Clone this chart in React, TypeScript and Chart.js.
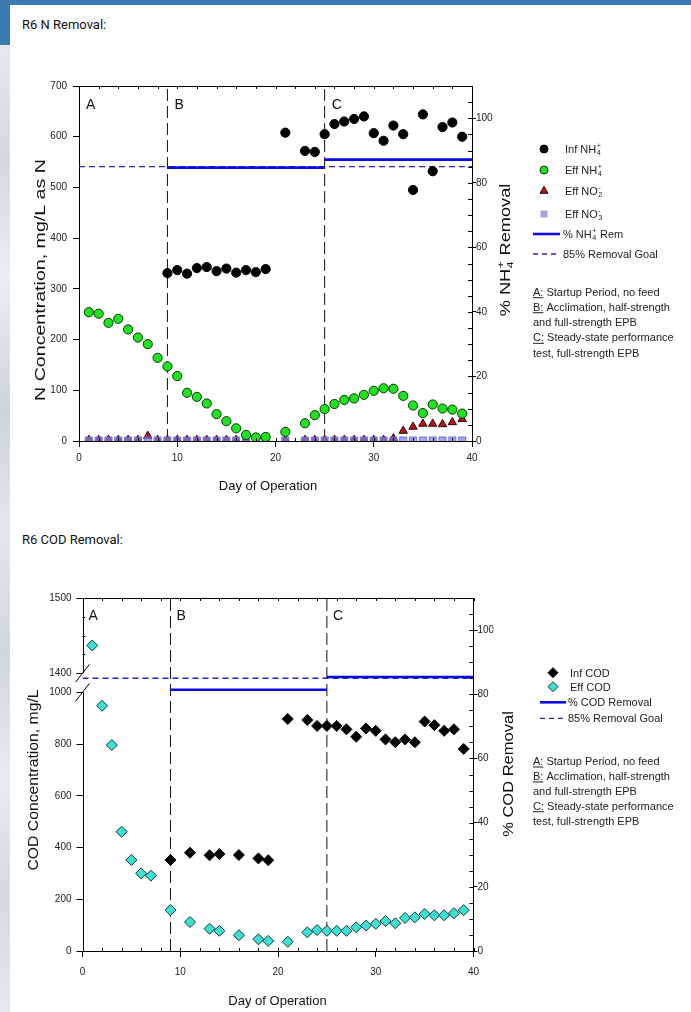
import React, { useEffect, useRef } from 'react';
import { Chart, registerables } from 'chart.js';

Chart.register(...registerables);

const F = '"Liberation Sans", Arial, Helvetica, sans-serif';
Chart.defaults.font.family = F;

// ---------------- R6 N removal ----------------
const dayTicks = [0, 10, 20, 30, 40];
const nConcTicks = [0, 100, 200, 300, 400, 500, 600, 700];
const pctTicks = [0, 20, 40, 60, 80, 100];

const infNH4Days = [9, 10, 11, 12, 13, 14, 15, 16, 17, 18, 19, 21, 23, 24, 25, 26, 27, 28, 29, 30, 31, 32, 33, 34, 35, 36, 37, 38, 39];
const infNH4 = [331, 337, 330, 341, 343, 335, 340, 332, 337, 333, 339, 608, 572, 570, 605, 625, 630, 635, 640, 607, 592, 622, 605, 495, 644, 532, 619, 628, 600];

const effNDays = [1, 2, 3, 4, 5, 6, 7, 8, 9, 10, 11, 12, 13, 14, 15, 16, 17, 18, 19, 21, 23, 24, 25, 26, 27, 28, 29, 30, 31, 32, 33, 34, 35, 36, 37, 38, 39];
const effNH4 = [254, 251, 233, 241, 220, 204, 191, 164, 147, 128, 95, 87, 74, 53, 39, 25, 12, 7, 8, 18, 35, 51, 63, 73, 81, 84, 91, 99, 104, 103, 89, 70, 55, 72, 64, 62, 54];
const effNO2 = [2, 2, 2, 2, 2, 2, 10, 2, 2, 2, 2, 2, 2, 2, 2, 2, 2, 2, 2, 2, 2, 2, 2, 2, 2, 2, 2, 2, 2, 5, 20, 28, 34, 34, 33, 37, 43];
const effNO3 = [1, 1, 1, 1, 1, 1, 1, 1, 1, 1, 1, 1, 1, 1, 1, 1, 1, 1, 1, 1, 1, 1, 1, 1, 1, 1, 1, 1, 1, 1, 1, 1, 1, 1, 1, 1, 1];

const nhRemStart = [9, 25];
const nhRemEnd = [25, 40];
const nhRemPct = [84.7, 87.2];

// ---------------- R6 COD removal ----------------
const codLowTicks = [0, 200, 400, 600, 800, 1000];
const codHighTicks = [1400, 1500];
const codBreakLow = 1000;
const codBreakHigh = 1400;

const infCODDays = [9, 11, 13, 14, 16, 18, 19, 21, 23, 24, 25, 26, 27, 28, 29, 30, 31, 32, 33, 34, 35, 36, 37, 38, 39];
const infCOD = [352, 380, 370, 375, 371, 358, 351, 897, 893, 870, 870, 870, 857, 828, 860, 851, 818, 807, 818, 807, 887, 873, 851, 857, 781];

const effCODDays = [1, 2, 3, 4, 5, 6, 7, 9, 11, 13, 14, 16, 18, 19, 21, 23, 24, 25, 26, 27, 28, 29, 30, 31, 32, 33, 34, 35, 36, 37, 38, 39];
const effCOD = [1437, 948, 796, 461, 352, 300, 291, 158, 112, 86, 78, 61, 45, 39, 36, 72, 81, 78, 78, 78, 92, 98, 105, 116, 107, 128, 130, 143, 138, 138, 146, 158];

const codRemStart = [9, 25];
const codRemEnd = [25, 40];
const codRemPct = [81.4, 85.4];

// ---------------- shared ----------------
const goalPct = 85;
const goalStart = 0;
const goalEnd = 40;
const phaseDays = [9, 25];
const phaseLabelDays = [0, 9, 25];
const phaseLabels = ['A', 'B', 'C'];
const pctMax = 110;

type Seg = { t: string; sub?: string; sup?: string; u?: boolean };

function pts(days: number[], vals: number[]) {
  return days.map((d, i) => ({ x: d, y: vals[i] }));
}

function richWidth(ctx: CanvasRenderingContext2D, segs: Seg[], size: number) {
  let w = 0;
  for (const s of segs) {
    ctx.font = `${size}px ${F}`;
    w += ctx.measureText(s.t).width;
    if (s.sub || s.sup) {
      ctx.font = `${size * 0.66}px ${F}`;
      w += Math.max(s.sub ? ctx.measureText(s.sub).width : 0, s.sup ? ctx.measureText(s.sup).width : 0) + 1;
    }
  }
  return w;
}

function drawRich(ctx: CanvasRenderingContext2D, segs: Seg[], x: number, y: number, size: number) {
  let cx = x;
  ctx.textAlign = 'left';
  ctx.textBaseline = 'alphabetic';
  for (const s of segs) {
    ctx.font = `${size}px ${F}`;
    ctx.fillText(s.t, cx, y);
    const w = ctx.measureText(s.t).width;
    if (s.u) ctx.fillRect(cx, y + 1.5, w, 1);
    cx += w;
    if (s.sub || s.sup) {
      ctx.font = `${size * 0.66}px ${F}`;
      let sw = 0;
      if (s.sub) {
        ctx.fillText(s.sub, cx + 0.5, y + size * 0.22);
        sw = Math.max(sw, ctx.measureText(s.sub).width);
      }
      if (s.sup) {
        ctx.fillText(s.sup, cx + 0.5, y - size * 0.45);
        sw = Math.max(sw, ctx.measureText(s.sup).width);
      }
      cx += sw + 1;
    }
  }
}

function drawVTitle(ctx: CanvasRenderingContext2D, segs: Seg[], cx: number, cy: number, size: number, stretch: number) {
  ctx.save();
  ctx.translate(cx, cy);
  ctx.rotate(-Math.PI / 2);
  ctx.scale(stretch, 1);
  const w = richWidth(ctx, segs, size);
  drawRich(ctx, segs, -w / 2, size * 0.36, size);
  ctx.restore();
}

function drawMarker(ctx: CanvasRenderingContext2D, style: string, x: number, y: number, r: number, fill: string, stroke?: string) {
  ctx.save();
  ctx.fillStyle = fill;
  ctx.beginPath();
  if (style === 'circle') ctx.arc(x, y, r, 0, Math.PI * 2);
  else if (style === 'triangle') {
    ctx.moveTo(x, y - r);
    ctx.lineTo(x + r * 0.866, y + r / 2);
    ctx.lineTo(x - r * 0.866, y + r / 2);
    ctx.closePath();
  } else if (style === 'rect') {
    const s = r * Math.SQRT1_2;
    ctx.rect(x - s, y - s, 2 * s, 2 * s);
  } else if (style === 'rectRot') {
    ctx.moveTo(x - r, y);
    ctx.lineTo(x, y - r);
    ctx.lineTo(x + r, y);
    ctx.lineTo(x, y + r);
    ctx.closePath();
  }
  ctx.fill();
  if (stroke) {
    ctx.strokeStyle = stroke;
    ctx.lineWidth = 1;
    ctx.stroke();
  }
  ctx.restore();
}

type LegendItem = {
  kind: 'marker' | 'line';
  style?: string;
  fill?: string;
  stroke?: string;
  r?: number;
  color?: string;
  width?: number;
  dash?: number[];
  segs: Seg[];
  y: number;
};

type DecorCfg = {
  letterDx: number;
  letterY: number;
  leftTitle: Seg[];
  leftX: number;
  leftY: number;
  leftSize: number;
  leftStretch: number;
  rightTitle: Seg[];
  rightX: number;
  rightY: number;
  rightSize: number;
  rightStretch: number;
  xTitleX: number;
  xTitleY: number;
  legend: LegendItem[];
  markerX: number;
  textX: number;
  lineX1: number;
  lineX2: number;
  lineTextX: number;
  notes: Seg[][];
  notesX: number;
  notesY: number[];
  broken?: boolean;
};

const notesSegs: Seg[][] = [
  [{ t: 'A:', u: true }, { t: ' Startup Period, no feed' }],
  [{ t: 'B:', u: true }, { t: ' Acclimation, half-strength' }],
  [{ t: 'and full-strength EPB' }],
  [{ t: 'C:', u: true }, { t: ' Steady-state performance' }],
  [{ t: 'test, full-strength EPB' }],
];

function makeDecor(cfg: DecorCfg) {
  return {
    id: 'decor',
    afterDraw(chart: any) {
      const ctx: CanvasRenderingContext2D = chart.ctx;
      const { left, right, top, bottom } = chart.chartArea;
      const xs = chart.scales.x;
      const y2 = chart.scales.y2;
      ctx.save();
      ctx.strokeStyle = '#000';
      ctx.lineWidth = 1;
      ctx.beginPath();
      ctx.moveTo(left, Math.round(top) + 0.5);
      ctx.lineTo(right, Math.round(top) + 0.5);
      for (let d = 0; d <= 40; d += 2) {
        const px = Math.round(xs.getPixelForValue(d)) + 0.5;
        ctx.moveTo(px, bottom);
        ctx.lineTo(px, bottom - 3);
        ctx.moveTo(px, top);
        ctx.lineTo(px, top + 3);
      }
      for (let p = 0; p <= pctMax; p += 5) {
        const py = Math.round(y2.getPixelForValue(p)) + 0.5;
        ctx.moveTo(right, py);
        ctx.lineTo(right - 4, py);
      }
      if (cfg.broken) {
        const yTop = chart.scales.yTop;
        const yLow = chart.scales.y;
        const b1 = yTop.getPixelForValue(codBreakHigh);
        const b2 = yLow.getPixelForValue(codBreakLow);
        const lx = Math.round(left) + 0.5;
        ctx.moveTo(lx, top);
        ctx.lineTo(lx, b1);
        ctx.moveTo(lx, b2);
        ctx.lineTo(lx, bottom);
        for (const b of [b1, b2]) {
          ctx.moveTo(left - 7, b + 9);
          ctx.lineTo(left + 7, b - 9);
        }
        for (const v of codHighTicks) {
          const py = Math.round(yTop.getPixelForValue(v)) + 0.5;
          ctx.moveTo(left - 6, py);
          ctx.lineTo(left, py);
        }
        for (let v = codBreakHigh + 25; v < 1500; v += 25) {
          const py = Math.round(yTop.getPixelForValue(v)) + 0.5;
          ctx.moveTo(left, py);
          ctx.lineTo(left + 3, py);
        }
      }
      ctx.stroke();

      ctx.fillStyle = '#222';
      if (cfg.broken) {
        const yTop = chart.scales.yTop;
        ctx.font = `10px ${F}`;
        ctx.textAlign = 'right';
        ctx.textBaseline = 'middle';
        for (const v of codHighTicks) {
          ctx.fillText(String(v), left - 11, yTop.getPixelForValue(v));
        }
      }

      ctx.fillStyle = '#111';
      ctx.font = `14px ${F}`;
      ctx.textAlign = 'left';
      ctx.textBaseline = 'alphabetic';
      phaseLabelDays.forEach((d, i) => {
        ctx.fillText(phaseLabels[i], xs.getPixelForValue(d) + cfg.letterDx, cfg.letterY);
      });

      ctx.fillStyle = '#111';
      drawVTitle(ctx, cfg.leftTitle, cfg.leftX, cfg.leftY, cfg.leftSize, cfg.leftStretch);
      drawVTitle(ctx, cfg.rightTitle, cfg.rightX, cfg.rightY, cfg.rightSize, cfg.rightStretch);
      ctx.font = `13px ${F}`;
      ctx.textAlign = 'center';
      ctx.textBaseline = 'middle';
      ctx.fillText('Day of Operation', cfg.xTitleX, cfg.xTitleY);

      for (const it of cfg.legend) {
        if (it.kind === 'marker') {
          drawMarker(ctx, it.style!, cfg.markerX, it.y, it.r!, it.fill!, it.stroke);
          ctx.fillStyle = '#222';
          drawRich(ctx, it.segs, cfg.textX, it.y + 4, 11);
        } else {
          ctx.save();
          ctx.strokeStyle = it.color!;
          ctx.lineWidth = it.width!;
          ctx.setLineDash(it.dash || []);
          ctx.beginPath();
          ctx.moveTo(cfg.lineX1, it.y);
          ctx.lineTo(cfg.lineX2, it.y);
          ctx.stroke();
          ctx.restore();
          ctx.fillStyle = '#222';
          drawRich(ctx, it.segs, cfg.lineTextX, it.y + 4, 11);
        }
      }
      ctx.fillStyle = '#222';
      cfg.notes.forEach((segs, i) => drawRich(ctx, segs, cfg.notesX, cfg.notesY[i] + 4, 11));
      ctx.restore();
    },
  };
}

const tickFont = { family: F, size: 10 };
const SOLID = '#0b0bea';
const DASHC = '#2727b5';
const plainLabel = (v: any) => String(v);

function lineSets(starts: number[], ends: number[], vals: number[]) {
  return starts.map((s, i) => ({
    data: [{ x: s, y: vals[i] }, { x: ends[i], y: vals[i] }],
    showLine: true,
    pointRadius: 0,
    borderColor: SOLID,
    borderWidth: 2.6,
    yAxisID: 'y2',
    order: 5,
  }));
}

function commonSets() {
  return [
    {
      data: [{ x: goalStart, y: goalPct }, { x: goalEnd, y: goalPct }],
      showLine: true,
      pointRadius: 0,
      borderColor: DASHC,
      borderWidth: 1.3,
      borderDash: [6, 4],
      yAxisID: 'y2',
      order: 6,
    },
    ...phaseDays.map((d) => ({
      data: [{ x: d, y: 0 }, { x: d, y: pctMax }],
      showLine: true,
      pointRadius: 0,
      borderColor: '#111',
      borderWidth: 1,
      borderDash: [12, 5],
      yAxisID: 'y2',
      order: 7,
    })),
  ];
}

function xScale(pad: number, h: number) {
  return {
    type: 'linear',
    min: 0,
    max: 40,
    afterBuildTicks: (s: any) => {
      s.ticks = dayTicks.map((v) => ({ value: v }));
    },
    afterFit: (s: any) => {
      s.height = h;
    },
    ticks: { font: tickFont, color: '#222', padding: pad, maxRotation: 0, autoSkip: false, callback: plainLabel },
    grid: { drawOnChartArea: false, drawTicks: true, tickLength: 6, color: '#000', lineWidth: 1 },
    border: { display: true, color: '#000', width: 1 },
  };
}

function pctScale() {
  return {
    type: 'linear',
    position: 'right',
    min: 0,
    max: pctMax,
    afterBuildTicks: (s: any) => {
      s.ticks = pctTicks.map((v) => ({ value: v }));
    },
    afterFit: (s: any) => {
      s.width = 20;
    },
    ticks: { font: tickFont, color: '#222', padding: 0, callback: plainLabel },
    grid: { drawOnChartArea: false, drawTicks: true, tickLength: 4, color: '#000', lineWidth: 1 },
    border: { display: true, color: '#000', width: 1 },
  };
}

function nConfig(): any {
  const legend: LegendItem[] = [
    { kind: 'marker', style: 'circle', fill: '#000', stroke: '#000', r: 4, segs: [{ t: 'Inf NH', sub: '4', sup: '+' }], y: 89 },
    { kind: 'marker', style: 'circle', fill: '#1fe31f', stroke: '#063806', r: 4, segs: [{ t: 'Eff NH', sub: '4', sup: '+' }], y: 110 },
    { kind: 'marker', style: 'triangle', fill: '#b8141c', stroke: '#2a0000', r: 4.6, segs: [{ t: 'Eff NO', sub: '2', sup: '-' }], y: 131 },
    { kind: 'marker', style: 'rect', fill: '#a6a6e6', r: 5, segs: [{ t: 'Eff NO', sub: '3', sup: '-' }], y: 154 },
    { kind: 'line', color: SOLID, width: 2.6, segs: [{ t: '% NH', sub: '4', sup: '+' }, { t: ' Rem' }], y: 174 },
    { kind: 'line', color: DASHC, width: 1.3, dash: [5, 4], segs: [{ t: '85% Removal Goal' }], y: 194 },
  ];
  return {
    type: 'scatter',
    data: {
      datasets: [
        { data: pts(infNH4Days, infNH4), yAxisID: 'y', pointStyle: 'circle', pointRadius: 4.6, pointBackgroundColor: '#000', pointBorderColor: '#000', pointBorderWidth: 1, order: 1 },
        { data: pts(effNDays, effNH4), yAxisID: 'y', pointStyle: 'circle', pointRadius: 4.6, pointBackgroundColor: '#1fe31f', pointBorderColor: '#063806', pointBorderWidth: 1, order: 2 },
        { data: pts(effNDays, effNO3), yAxisID: 'y', pointStyle: 'rect', pointRadius: 5, pointBackgroundColor: 'rgba(125,125,235,0.7)', pointBorderColor: 'rgba(95,95,205,0.8)', pointBorderWidth: 1, order: 3 },
        { data: pts(effNDays, effNO2), yAxisID: 'y', pointStyle: 'triangle', pointRadius: 4.8, pointBackgroundColor: '#b8141c', pointBorderColor: '#2a0000', pointBorderWidth: 1, order: 4 },
        ...lineSets(nhRemStart, nhRemEnd, nhRemPct),
        ...commonSets(),
      ],
    },
    options: {
      animation: false,
      responsive: false,
      maintainAspectRatio: false,
      events: [],
      layout: { padding: { top: 26, left: 0, right: 199, bottom: 0 } },
      plugins: { legend: { display: false }, tooltip: { enabled: false } },
      scales: {
        x: xScale(5, 69),
        y: {
          type: 'linear',
          position: 'left',
          min: 0,
          max: 700,
          afterBuildTicks: (s: any) => {
            s.ticks = nConcTicks.map((v) => ({ value: v }));
          },
          afterFit: (s: any) => {
            s.width = 79;
          },
          ticks: { font: tickFont, color: '#222', padding: 6, callback: plainLabel },
          grid: { drawOnChartArea: false, drawTicks: true, tickLength: 6, color: '#000', lineWidth: 1 },
          border: { display: true, color: '#000', width: 1 },
        },
        y2: pctScale(),
      },
    },
    plugins: [
      makeDecor({
        letterDx: 7,
        letterY: 48.5,
        leftTitle: [{ t: 'N Concentration, mg/L as N' }],
        leftX: 40,
        leftY: 220,
        leftSize: 14,
        leftStretch: 1.4,
        rightTitle: [{ t: '% NH', sub: '4', sup: '+' }, { t: ' Removal' }],
        rightX: 505,
        rightY: 190,
        rightSize: 14,
        rightStretch: 1.3,
        xTitleX: 268,
        xTitleY: 426,
        legend,
        markerX: 544,
        textX: 565,
        lineX1: 533,
        lineX2: 560,
        lineTextX: 563,
        notes: notesSegs,
        notesX: 533,
        notesY: [231.7, 246.7, 261.7, 277.3, 293.3],
      }),
    ],
  };
}

function codConfig(): any {
  const effLow = pts(effCODDays, effCOD).filter((p) => p.y <= codBreakLow);
  const effHigh = pts(effCODDays, effCOD).filter((p) => p.y >= codBreakHigh);
  const legend: LegendItem[] = [
    { kind: 'marker', style: 'rectRot', fill: '#000', stroke: '#000', r: 5, segs: [{ t: 'Inf COD' }], y: 112.7 },
    { kind: 'marker', style: 'rectRot', fill: '#3fe0d4', stroke: '#0d3b3b', r: 5, segs: [{ t: 'Eff COD' }], y: 126.7 },
    { kind: 'line', color: SOLID, width: 2.6, segs: [{ t: '% COD Removal' }], y: 142.3 },
    { kind: 'line', color: DASHC, width: 1.3, dash: [5, 4], segs: [{ t: '85% Removal Goal' }], y: 158.3 },
  ];
  const cyan = { pointStyle: 'rectRot', pointRadius: 5.5, pointBackgroundColor: '#3fe0d4', pointBorderColor: '#0d3b3b', pointBorderWidth: 1, order: 2 };
  return {
    type: 'scatter',
    data: {
      datasets: [
        { data: pts(infCODDays, infCOD), yAxisID: 'y', pointStyle: 'rectRot', pointRadius: 5.5, pointBackgroundColor: '#000', pointBorderColor: '#000', pointBorderWidth: 1, order: 1 },
        { data: effLow, yAxisID: 'y', ...cyan },
        { data: effHigh, yAxisID: 'yTop', ...cyan },
        ...lineSets(codRemStart, codRemEnd, codRemPct),
        ...commonSets(),
      ],
    },
    options: {
      animation: false,
      responsive: false,
      maintainAspectRatio: false,
      events: [],
      layout: { padding: { top: 38, left: 0, right: 197.5, bottom: 0 } },
      plugins: { legend: { display: false }, tooltip: { enabled: false } },
      scales: {
        x: xScale(9, 61),
        y: {
          type: 'linear',
          position: 'left',
          min: 0,
          max: 1364.5,
          afterBuildTicks: (s: any) => {
            s.ticks = codLowTicks.map((v) => ({ value: v }));
          },
          afterFit: (s: any) => {
            s.width = 82.5;
          },
          ticks: { font: tickFont, color: '#222', padding: 5, callback: plainLabel },
          grid: { drawOnChartArea: false, drawTicks: true, tickLength: 6, color: '#000', lineWidth: 1 },
          border: { display: false },
        },
        yTop: { type: 'linear', display: false, min: 1031, max: 1500 },
        y2: pctScale(),
      },
    },
    plugins: [
      makeDecor({
        letterDx: 6,
        letterY: 59.5,
        leftTitle: [{ t: 'COD Concentration, mg/L' }],
        leftX: 33,
        leftY: 220,
        leftSize: 15,
        leftStretch: 1.05,
        rightTitle: [{ t: '% COD Removal' }],
        rightX: 508,
        rightY: 214,
        rightSize: 15,
        rightStretch: 1.1,
        xTitleX: 277.5,
        xTitleY: 441.7,
        legend,
        markerX: 553,
        textX: 570,
        lineX1: 540,
        lineX2: 566,
        lineTextX: 568,
        notes: notesSegs,
        notesX: 533,
        notesY: [201, 216, 230.7, 245.7, 260.7],
        broken: true,
      }),
    ],
  };
}

const titleStyle: React.CSSProperties = {
  position: 'absolute',
  left: 22,
  fontFamily: '"Liberation Sans Narrow", "Roboto", "Liberation Sans", sans-serif',
  fontSize: 13,
  lineHeight: '16px',
  color: '#111',
  whiteSpace: 'nowrap',
};

export default function App() {
  const nRef = useRef<HTMLCanvasElement>(null);
  const cRef = useRef<HTMLCanvasElement>(null);
  useEffect(() => {
    const c1 = new Chart(nRef.current as HTMLCanvasElement, nConfig());
    const c2 = new Chart(cRef.current as HTMLCanvasElement, codConfig());
    return () => {
      c1.destroy();
      c2.destroy();
    };
  }, []);
  return (
    <div style={{ position: 'absolute', left: 0, top: 0, width: 691, height: 1012, background: '#fff', overflow: 'hidden' }}>
      <div style={{ position: 'absolute', left: 0, top: 0, width: 691, height: 5, background: '#3b7bb2' }} />
      <div style={{ position: 'absolute', left: 0, top: 0, width: 10, height: 45, background: '#3b7bb2' }} />
      <div
        style={{
          position: 'absolute',
          left: 0,
          top: 45,
          width: 10,
          height: 967,
          background:
            'linear-gradient(180deg, #e6eaee 0%, #d3d9df 12%, #eceff2 24%, #cdd4da 38%, #e4e8ec 50%, #d0d7dd 63%, #e9ecef 76%, #d4dae0 88%, #e6e9ec 100%)',
        }}
      />
      <div style={{ ...titleStyle, top: 17 }}>R6 N Removal:</div>
      <canvas ref={nRef} width={691} height={450} style={{ position: 'absolute', left: 0, top: 60, width: 691, height: 450 }} />
      <div style={{ ...titleStyle, top: 532 }}>R6 COD Removal:</div>
      <canvas ref={cRef} width={691} height={452} style={{ position: 'absolute', left: 0, top: 560, width: 691, height: 452 }} />
    </div>
  );
}
